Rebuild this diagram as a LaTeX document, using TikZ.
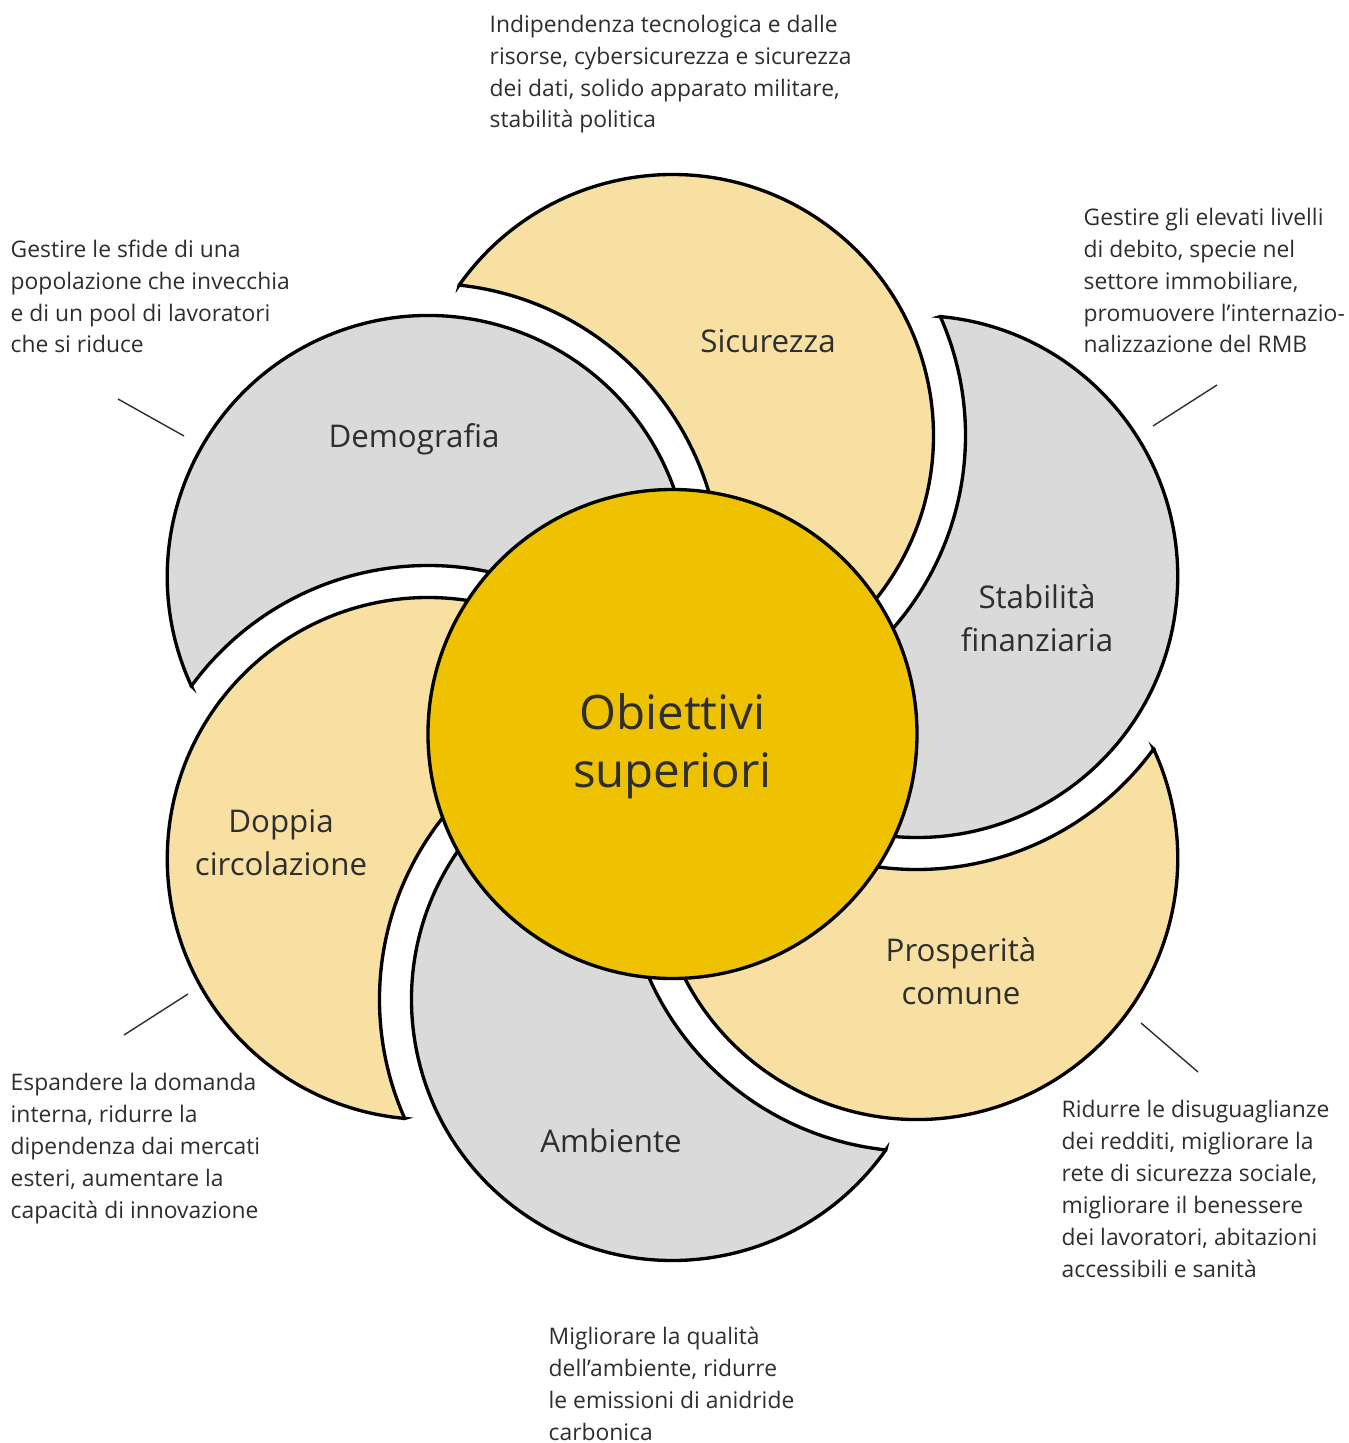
\documentclass[tikz,border=0pt]{standalone}
\usepackage{fontspec}
\setmainfont{Open Sans}
\usetikzlibrary{calc}
\definecolor{petalyellow}{HTML}{F7E0A1}
\definecolor{petalgray}{HTML}{DADADA}
\definecolor{coreyellow}{HTML}{EEC200}
\definecolor{txtgray}{HTML}{2E2E2E}
\tikzstyle{petal}  = [draw=black, line width=0.95pt, line join=miter]
\tikzstyle{core}   = [circle, draw=black, line width=0.95pt, fill=coreyellow, minimum size=4.89cm, inner sep=0pt]
\tikzstyle{ctext}  = [align=center, inner sep=0pt, text=txtgray, font=\fontsize{13.5}{16.6}\selectfont]
\tikzstyle{plabel} = [align=center, inner sep=0pt, text=txtgray, font=\fontsize{8.9}{12.2}\selectfont]
\tikzstyle{desc}   = [anchor=base west, align=left, inner sep=0pt, text=txtgray, font=\fontsize{6.5}{9.1}\selectfont]
\tikzstyle{leader} = [draw=txtgray, line width=0.4pt]
\def\petd{2.82}
\def\petr{2.61}
\def\biter{2.93}

\begin{document}
\begin{tikzpicture}
        \useasboundingbox (-6.725,-7.255) rectangle (6.765,7.175);

        % petals: circle minus the widened circle of the next one
        \foreach \ang/\col in {90/petalyellow,30/petalgray,-30/petalyellow,-90/petalgray,-150/petalyellow,150/petalgray}{
            \begin{scope}[rotate=\ang-90]
                \draw[petal, fill=\col] (0,\petd) ++(144.83:\petr)
                    arc[start angle=144.83, end angle=-84.82, radius=\petr]
                    arc[start angle=-23.95, end angle=83.95, radius=\biter] -- cycle;
            \end{scope}
        }

        \node[core] (obj) at (0,-0.165) {};
        \node[ctext] (objtxt) at ($(obj.center)+(0,-0.12)$) {Obiettivi\\superiori};

        \node[plabel] (sic) at (0.955,3.765) {Sicurezza};
        \node[plabel] (dem) at (-2.585,2.78) {Demografia};
        \node[plabel] (fin) at (3.645,0.995) {Stabilità\\finanziaria};
        \node[plabel] (pro) at (2.885,-2.535) {Prosperità\\comune};
        \node[plabel] (amb) at (-0.615,-4.235) {Ambiente};
        \node[plabel] (dop) at (-3.915,-1.25) {Doppia\\circolazione};

        % base = baseline of the last line
        \node[desc] (sictxt) at (-1.835,5.895) {Indipendenza tecnologica e dalle\\risorse, cybersicurezza e sicurezza\\dei dati, solido apparato militare,\\stabilità politica};
        \node[desc] (demtxt) at (-6.625,3.645) {Gestire le sfide di una\\popolazione che invecchia\\e di un pool di lavoratori\\che si riduce};
        \node[desc] (fintxt) at (4.105,3.645) {Gestire gli elevati livelli\\di debito, specie nel\\settore immobiliare,\\promuovere l’internazio-\\nalizzazione del RMB};
        \node[desc] (doptxt) at (-6.625,-5.005) {Espandere la domanda\\interna, ridurre la\\dipendenza dai mercati\\esteri, aumentare la\\capacità di innovazione};
        \node[desc] (protxt) at (3.885,-5.595) {Ridurre le disuguaglianze\\dei redditi, migliorare la\\rete di sicurezza sociale,\\migliorare il benessere\\dei lavoratori, abitazioni\\accessibili e sanità};
        \node[desc] (ambtxt) at (-1.245,-7.225) {Migliorare la qualità\\dell’ambiente, ridurre\\le emissioni di anidride\\carbonica};

        \coordinate (demA) at (-5.545,3.185);
        \coordinate (demB) at (-4.885,2.815);
        \coordinate (finA) at (5.445,3.325);
        \coordinate (finB) at (4.805,2.915);
        \coordinate (dopA) at (-4.845,-2.765);
        \coordinate (dopB) at (-5.485,-3.175);
        \coordinate (proA) at (4.685,-3.055);
        \coordinate (proB) at (5.255,-3.545);
        \draw[leader] (demA) -- (demB);
        \draw[leader] (finA) -- (finB);
        \draw[leader] (dopA) -- (dopB);
        \draw[leader] (proA) -- (proB);
    \end{tikzpicture}
\end{document}
